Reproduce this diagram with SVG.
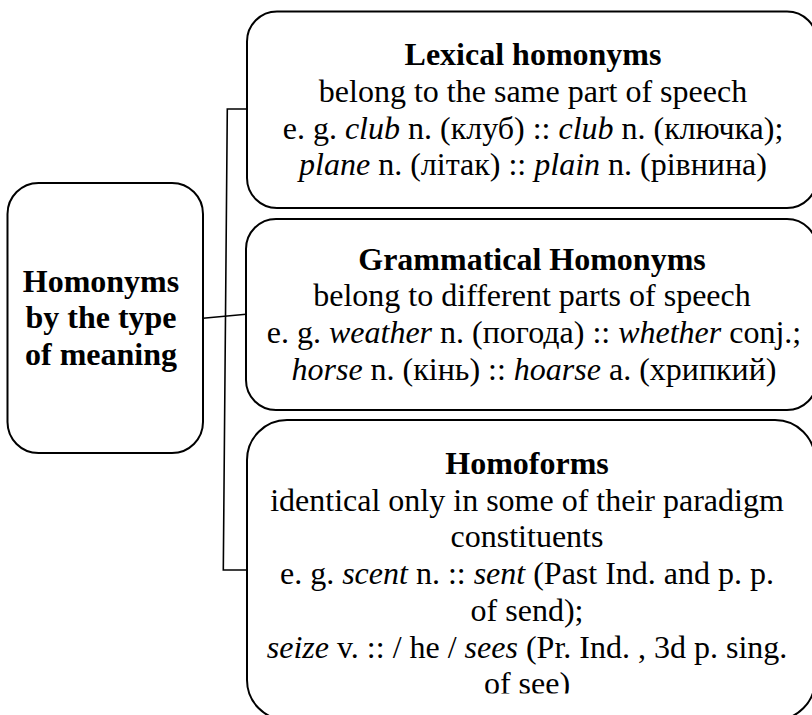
<svg xmlns="http://www.w3.org/2000/svg" width="812" height="715" viewBox="0 0 812 715">
<style>
.box{fill:#fff;stroke:#000;stroke-width:2}
.con{fill:none;stroke:#000;stroke-width:1.6}
text{font-family:"Liberation Serif","Times New Roman",serif;font-size:32px;fill:#000;text-anchor:middle}
.b{font-weight:bold}
.i{font-style:italic}
</style>
<defs>
<clipPath id="clip3"><rect x="240" y="420" width="580" height="273.5"/></clipPath>
</defs>
<rect width="812" height="715" fill="#fff"/>
<g id="connectors">
<polyline class="con" points="247,109 227.3,109 223.3,570 248,570"/>
<line class="con" x1="203" y1="318.3" x2="246" y2="314.3"/>
</g>
<g id="root">
<rect class="box" x="7.5" y="183" width="195.5" height="270" rx="31" ry="31"/>
<text class="b" x="101" y="291.5">Homonyms</text>
<text class="b" x="101" y="328">by the type</text>
<text class="b" x="101" y="364.5">of meaning</text>
</g>
<g id="lexical">
<rect class="box" x="247" y="11.5" width="570" height="196.5" rx="30" ry="30"/>
<text class="b" x="533" y="65">Lexical homonyms</text>
<text x="533" y="101.8">belong to the same part of speech</text>
<text x="533" y="138.6">e. g. <tspan class="i">club</tspan> n. (клуб) :: <tspan class="i">club</tspan> n. (ключка);</text>
<text x="533" y="175.4"><tspan class="i">plane</tspan> n. (літак) :: <tspan class="i">plain</tspan> n. (рівнина)</text>
</g>
<g id="grammatical">
<rect class="box" x="246" y="219" width="571" height="191" rx="30" ry="30"/>
<text class="b" x="532" y="269.5">Grammatical Homonyms</text>
<text x="532" y="306">belong to different parts of speech</text>
<text x="534" y="342.5">e. g. <tspan class="i">weather</tspan> n. (погода) :: <tspan class="i">whether</tspan> conj.;</text>
<text x="534" y="379.5"><tspan class="i">horse</tspan> n. (кінь) :: <tspan class="i">hoarse</tspan> a. (хрипкий)</text>
</g>
<g id="homoforms">
<rect class="box" x="247" y="420" width="568" height="300" rx="40" ry="40"/>
<g clip-path="url(#clip3)">
<text class="b" x="527" y="474">Homoforms</text>
<text x="527" y="510.7">identical only in some of their paradigm</text>
<text x="527" y="547.4">constituents</text>
<text x="527" y="584">e. g. <tspan class="i">scent</tspan> n. :: <tspan class="i">sent</tspan> (Past Ind. and p. p.</text>
<text x="527" y="620.8">of send);</text>
<text x="527" y="657.5"><tspan class="i">seize</tspan> v. :: / he / <tspan class="i">sees</tspan> (Pr. Ind. , 3d p. sing.</text>
<text x="527" y="694.2">of see)</text>
</g>
</g>
</svg>
